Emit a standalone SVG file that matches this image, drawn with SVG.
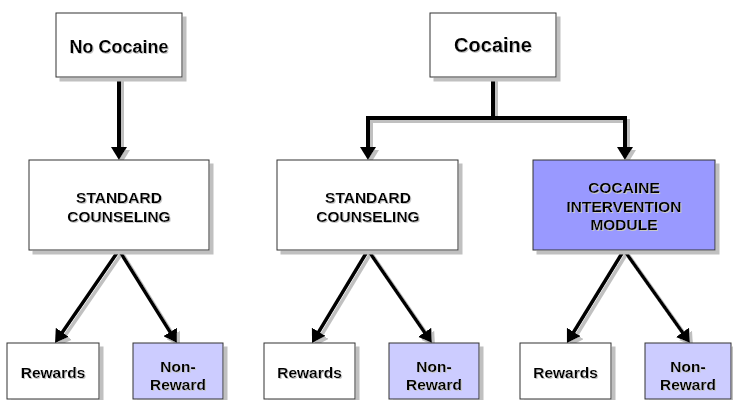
<svg xmlns="http://www.w3.org/2000/svg" width="733" height="400" viewBox="0 0 733 400">
<defs>
<filter id="bs" x="-10%" y="-10%" width="130%" height="130%"><feDropShadow dx="4" dy="4" stdDeviation="0" flood-color="#c0c0c0" flood-opacity="1"/></filter>
<filter id="ls" x="-20%" y="-20%" width="140%" height="140%"><feDropShadow dx="3" dy="3" stdDeviation="0" flood-color="#c0c0c0" flood-opacity="1"/></filter>
<filter id="ts" x="-10%" y="-10%" width="130%" height="130%"><feDropShadow dx="1" dy="1" stdDeviation="0" flood-color="#c8c8c8" flood-opacity="1"/></filter>
<marker id="ah" markerUnits="userSpaceOnUse" markerWidth="13" markerHeight="16" viewBox="0 0 13 16" refX="3" refY="8" orient="auto"><path d="M0,0 L13,8 L0,16 z" fill="#000"/></marker>
<style>
.box{stroke:#333;stroke-width:1;filter:url(#bs)}
.w{fill:#fff}
.lb{fill:#ccccff}
.db{fill:#9999ff}
text{font-family:"Liberation Sans",Arial,sans-serif;font-weight:bold;fill:#000;text-anchor:middle;filter:url(#ts)}
.c line,.c path{stroke:#000;fill:none}
.v{stroke-width:4}
.d{stroke-width:3.5}
</style>
</defs>
<g class="c" id="connectors" filter="url(#ls)">
<line class="v" x1="119" y1="77" x2="119" y2="150" marker-end="url(#ah)"/>
<path class="v" d="M493,77 V118 M368,118 H625"/>
<line class="v" x1="368" y1="116" x2="368" y2="150" marker-end="url(#ah)"/>
<line class="v" x1="625" y1="116" x2="625" y2="150" marker-end="url(#ah)"/>
<line class="d" x1="119" y1="250" x2="60.7" y2="334.8" marker-end="url(#ah)"/>
<line class="d" x1="119" y1="250" x2="171.7" y2="334.5" marker-end="url(#ah)"/>
<line class="d" x1="368" y1="250" x2="317.2" y2="334.4" marker-end="url(#ah)"/>
<line class="d" x1="368" y1="250" x2="426.3" y2="334.8" marker-end="url(#ah)"/>
<line class="d" x1="624" y1="250" x2="572.2" y2="334.5" marker-end="url(#ah)"/>
<line class="d" x1="624" y1="250" x2="684.2" y2="334.8" marker-end="url(#ah)"/>
</g>
<g id="no-cocaine"><rect class="box w" x="56" y="13" width="126" height="64"/><text x="119" y="53" font-size="18">No Cocaine</text></g>
<g id="cocaine"><rect class="box w" x="430" y="13" width="126" height="64"/><text x="493" y="52" font-size="20">Cocaine</text></g>
<g id="std1"><rect class="box w" x="29" y="160" width="180" height="90"/><text x="119" y="203" font-size="15.5">STANDARD</text><text x="119" y="222" font-size="15.5">COUNSELING</text></g>
<g id="std2"><rect class="box w" x="277" y="160" width="181" height="90"/><text x="368" y="203" font-size="15.5">STANDARD</text><text x="368" y="222" font-size="15.5">COUNSELING</text></g>
<g id="cim"><rect class="box db" x="533" y="160" width="182" height="90"/><text x="624" y="193" font-size="15.5">COCAINE</text><text x="624" y="212" font-size="15.5">INTERVENTION</text><text x="624" y="230" font-size="15.5">MODULE</text></g>
<g id="rew1"><rect class="box w" x="7" y="343" width="92" height="56"/><text x="53" y="378" font-size="15.5">Rewards</text></g>
<g id="non1"><rect class="box lb" x="133" y="343" width="90" height="56"/><text x="178" y="372" font-size="15.5">Non-</text><text x="178" y="390" font-size="15.5">Reward</text></g>
<g id="rew2"><rect class="box w" x="264" y="343" width="91" height="56"/><text x="309.5" y="378" font-size="15.5">Rewards</text></g>
<g id="non2"><rect class="box lb" x="389" y="343" width="90" height="56"/><text x="434" y="372" font-size="15.5">Non-</text><text x="434" y="390" font-size="15.5">Reward</text></g>
<g id="rew3"><rect class="box w" x="520" y="343" width="91" height="56"/><text x="565.5" y="378" font-size="15.5">Rewards</text></g>
<g id="non3"><rect class="box lb" x="645" y="343" width="86" height="56"/><text x="688" y="372" font-size="15.5">Non-</text><text x="688" y="390" font-size="15.5">Reward</text></g>
</svg>
